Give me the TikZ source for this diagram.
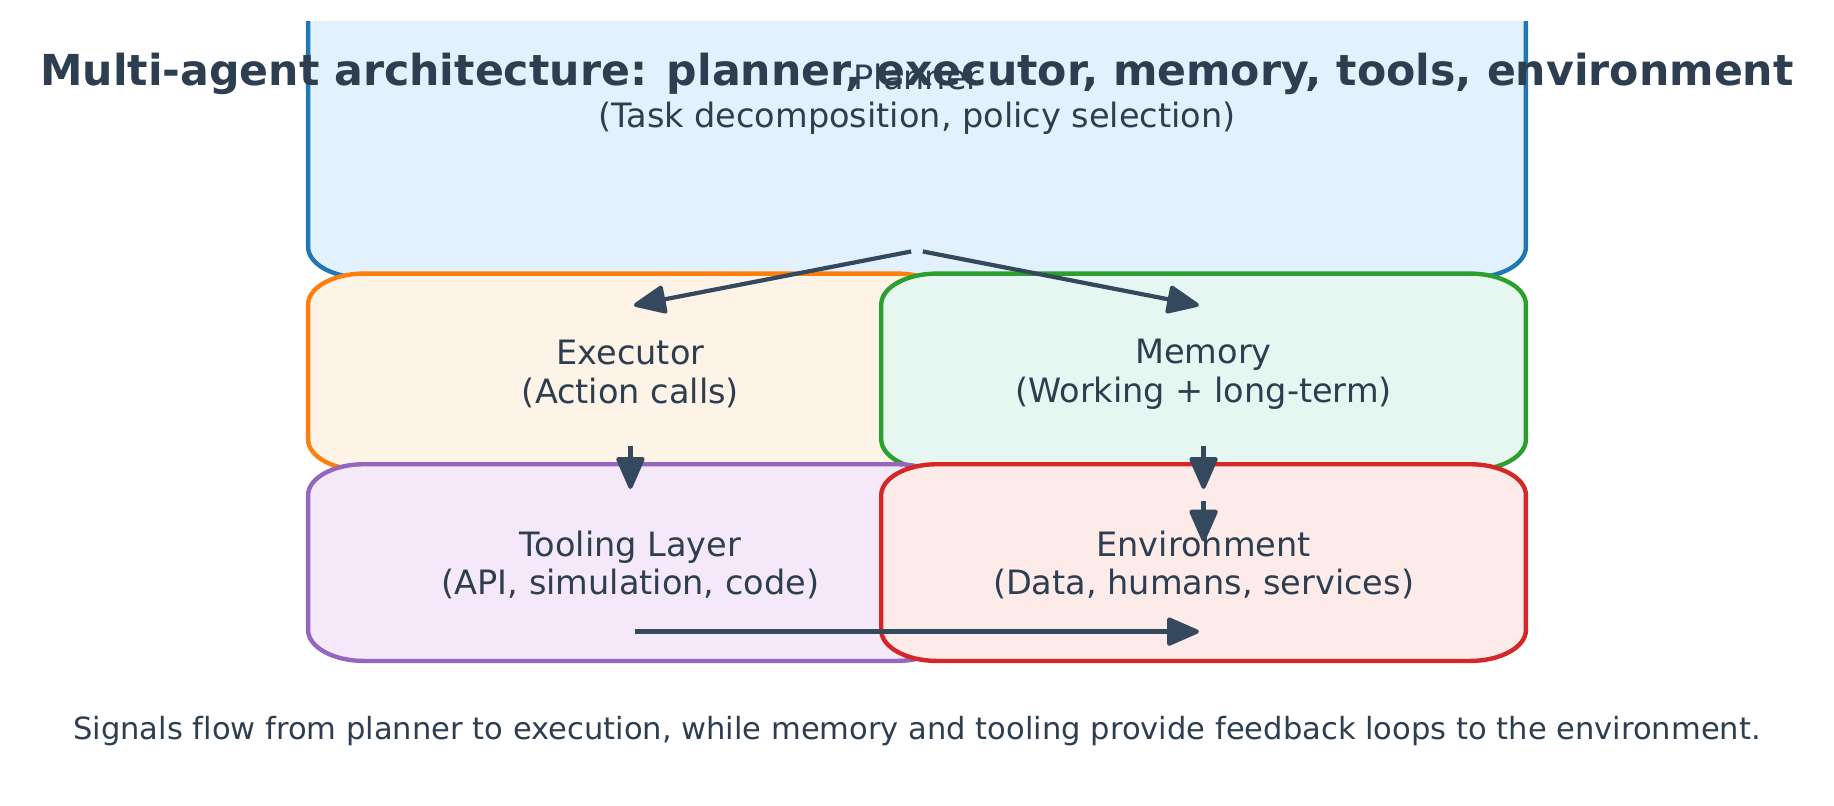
\documentclass[tikz,border=0pt]{standalone}
\usepackage{fontspec}
\setmainfont[Ligatures=NoCommon]{DejaVu Sans}
\usepackage{tikz}
\usetikzlibrary{arrows.meta}
\usepackage{xcolor}
\definecolor{txtDark}{HTML}{2C3E50}
\definecolor{arrowDark}{HTML}{34495E}
\definecolor{planEdge}{HTML}{1F77B4}
\definecolor{planFill}{HTML}{E3F1FC}
\definecolor{execEdge}{HTML}{FF7F0E}
\definecolor{execFill}{HTML}{FDF3E6}
\definecolor{memEdge}{HTML}{2CA02C}
\definecolor{memFill}{HTML}{E6F7F2}
\definecolor{toolEdge}{HTML}{9467BD}
\definecolor{toolFill}{HTML}{F4E8F9}
\definecolor{envEdge}{HTML}{D62728}
\definecolor{envFill}{HTML}{FDEBEA}

\tikzset{
    block/.style={inner sep=0pt, align=center, text=txtDark,
        font=\fontsize{9.55}{11}\selectfont},
    frame/.style={line width=1.25pt},
    flow/.style={line width=1.2pt, arrowDark, -{Triangle[round, length=10pt, width=8.4pt]}}
}

% rounded box with wide corners, drawn round a named node
\newcommand\roundbox[3]{%
    \filldraw[frame, draw=#2, fill=#3]
        ([xshift=\rx]#1.south west) -- ([xshift=-\rx]#1.south east)
        arc[start angle=270, end angle=360, x radius=\rx, y radius=\ry]
        -- ([yshift=-\ry]#1.north east)
        arc[start angle=0, end angle=90, x radius=\rx, y radius=\ry]
        -- ([xshift=\rx]#1.north west)
        arc[start angle=90, end angle=180, x radius=\rx, y radius=\ry]
        -- ([yshift=\ry]#1.south west)
        arc[start angle=180, end angle=270, x radius=\rx, y radius=\ry]
        -- cycle;}

\begin{document}
\begin{tikzpicture}[x=0.011696cm, y=-0.011696cm]
    \newcommand\px{0.011696cm}
    \newcommand\rx{0.56cm}
    \newcommand\ry{0.31cm}
    \newcommand\bw{550}
    \newcommand\bh{167}
    \newcommand\textdrop{2}

    \useasboundingbox (0,0) rectangle (1568,689);

    % planner box runs off the top
    \begin{scope}
        \clip (0,18) rectangle (1568,689);
        \node[block, minimum width=1040*\px, minimum height=308*\px] (planner) at (784,83) {};
        \roundbox{planner}{planEdge}{planFill}
    \end{scope}
    \node[block] (planText) at (784,83+\textdrop) {Planner\\(Task decomposition, policy selection)};

    \node[block, minimum width=\bw*\px, minimum height=\bh*\px] (executor) at (539,318) {};
    \roundbox{executor}{execEdge}{execFill}
    \node[block] (execText) at (539,318+\textdrop) {Executor\\(Action calls)};

    \node[block, minimum width=\bw*\px, minimum height=\bh*\px] (memory) at (1029,318) {};
    \roundbox{memory}{memEdge}{memFill}
    \node[block] (memText) at (1029,318+\textdrop) {Memory\\(Working + long-term)};

    \node[block, minimum width=\bw*\px, minimum height=\bh*\px] (tooling) at (539,481) {};
    \roundbox{tooling}{toolEdge}{toolFill}
    \node[block] (toolText) at (539,481+\textdrop) {Tooling Layer\\(API, simulation, code)};

    \node[block, minimum width=\bw*\px, minimum height=\bh*\px] (environment) at (1029,481) {};
    \roundbox{environment}{envEdge}{envFill}
    \node[block] (envText) at (1029,481+\textdrop) {Environment\\(Data, humans, services)};

    \node[text=txtDark, font=\fontsize{12.15}{15}\selectfont\bfseries] (title) at (784,63)
        {Multi-agent architecture: planner, executor, memory, tools, environment};
    \node[text=txtDark, font=\fontsize{8.7}{10}\selectfont] (caption) at (784,625)
        {Signals flow from planner to execution, while memory and tooling provide feedback loops to the environment.};

    % draw arrow
    \coordinate (planL) at (779,215);
    \coordinate (planR) at (789,215);
    \coordinate (execIn) at (542,261);
    \coordinate (memIn) at (1025,261);
    \coordinate (execOut) at (539,381);
    \coordinate (toolIn) at (539,418);
    \coordinate (memOut) at (1029,381);
    \coordinate (memEnd) at (1029,418);
    \coordinate (envA) at (1029,428);
    \coordinate (envB) at (1029,463);
    \coordinate (toolOut) at (543,540);
    \coordinate (envIn) at (1025,540);

    \draw[flow] (planL) -- (execIn);
    \draw[flow] (planR) -- (memIn);
    \draw[flow] (execOut) -- (toolIn);
    \draw[flow] (memOut) -- (memEnd);
    \draw[flow] (envA) -- (envB);
    \draw[flow] (toolOut) -- (envIn);
\end{tikzpicture}
\end{document}
